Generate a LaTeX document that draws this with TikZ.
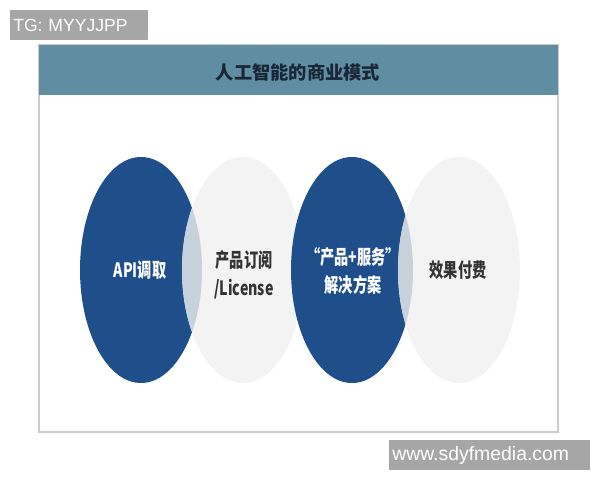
\documentclass[tikz,border=0pt]{standalone}
\usepackage{fontspec}
\setmainfont{Liberation Sans}
\newfontfamily\cjk{Noto Sans CJK SC}
\newfontfamily\cjkschmal[FakeStretch=0.72]{Noto Sans CJK SC}
\usepackage{xcolor}
\usepackage{tikz}
\usetikzlibrary{positioning}
\definecolor{kopfblau}{RGB}{95,142,163}
\definecolor{ellblau}{RGB}{31,79,138}
\definecolor{ellgrau}{RGB}{243,243,243}
\definecolor{schnitt}{RGB}{200,210,221}
\definecolor{rahmengrau}{RGB}{205,205,205}
\definecolor{wzgrau}{RGB}{166,166,166}
\definecolor{titelgrau}{RGB}{26,38,52}
\definecolor{textgrau}{RGB}{51,51,51}

\begin{document}
\begin{tikzpicture}[x=0.025cm,y=-0.025cm,
  hell/.style={font=\cjkschmal\bfseries\fontsize{14}{20}\selectfont,text=white,align=center},
  dunkel/.style={font=\cjkschmal\bfseries\fontsize{14}{20}\selectfont,text=textgrau,align=center},
  wz/.style={fill=wzgrau,text=white,anchor=north west,inner xsep=0.075cm,inner ysep=0pt,minimum height=0.75cm,align=left}]
%Masse in Pixel des Vorbilds (600x480), y nach unten
  \pgfmathsetmacro{\rx}{61}
  \pgfmathsetmacro{\ry}{113}
  \pgfmathsetmacro{\my}{270}
\useasboundingbox (0,0) rectangle (600,480);
%Rahmen mit Kopfzeile
\draw[rahmengrau,line width=0.04cm,fill=white] (39,45) rectangle (558,432);
\fill[kopfblau] (39,45) rectangle (558,95);
\node[font=\cjk\bfseries\fontsize{13}{16}\selectfont,text=titelgrau] (titel) at (298,72) {人工智能的商业模式};
%Ellipsen von links nach rechts, Schnittflaeche nur wo grau ueber blau liegt
\foreach \xa/\xb in {141/243,352/459}{
\fill[ellblau] (\xa,\my) ellipse [x radius=\rx, y radius=\ry];
\fill[ellgrau] (\xb,\my) ellipse [x radius=\rx, y radius=\ry];
\begin{scope}
\clip (\xa,\my) ellipse [x radius=\rx, y radius=\ry];
\fill[schnitt] (\xb,\my) ellipse [x radius=\rx, y radius=\ry];
\end{scope}
}
\node[hell] (api) at (140,270) {API调取};
\node[dunkel] (lizenz) at (244,275) {产品订阅\\/License};
\node[hell] (loesung) at (353,271) {“产品+服务”\\解决方案};
\node[dunkel] (effekt) at (458,270) {效果付费};
%Wasserzeichen
\node[wz,text width=3.3cm,font=\fontsize{12.5}{15}\selectfont] (tg) at (10,10) {TG: MYYJJPP};
\node[wz,text width=4.875cm,font=\fontsize{13.8}{16}\selectfont] (web) at (389,440) {www.sdyfmedia.com};
\end{tikzpicture}
\end{document}
